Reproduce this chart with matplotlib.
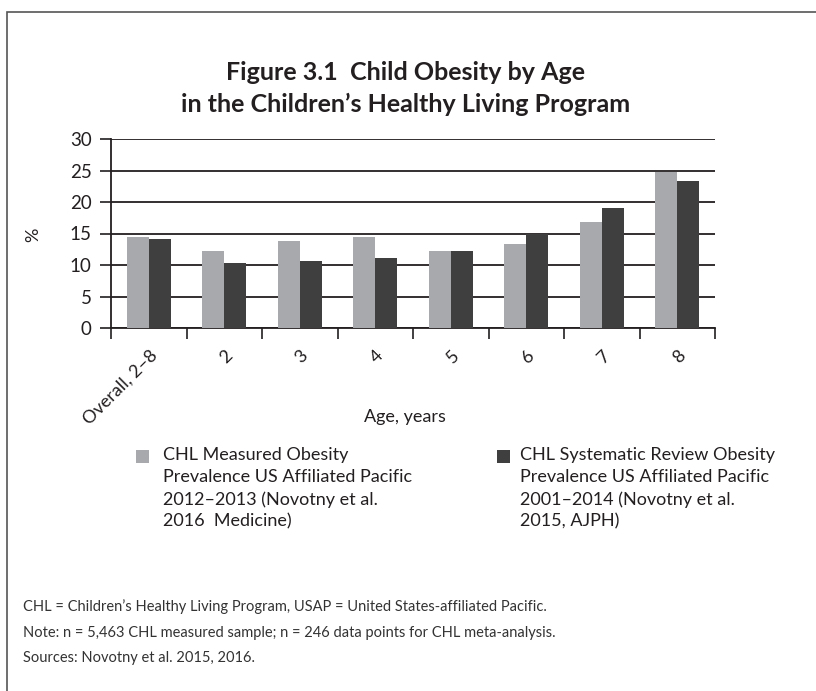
import numpy as np
import matplotlib.pyplot as plt
from matplotlib.patches import Rectangle

plt.rcParams['font.family'] = ['Lato', 'DejaVu Sans']

# data
categories = ['Overall, 2–8', '2', '3', '4', '5', '6', '7', '8']
measured = [14.4, 12.2, 13.8, 14.4, 12.2, 13.4, 16.9, 24.7]
review = [14.1, 10.3, 10.6, 11.1, 12.3, 15.0, 19.0, 23.3]
yticks = [0, 5, 10, 15, 20, 25, 30]

label_measured = ("CHL Measured Obesity\nPrevalence US Affiliated Pacific\n"
                  "2012–2013 (Novotny et al.\n2016  Medicine)")
label_review = ("CHL Systematic Review Obesity\nPrevalence US Affiliated Pacific\n"
                "2001–2014 (Novotny et al.\n2015, AJPH)")
notes = ["CHL = Children’s Healthy Living Program, USAP = United States-affiliated Pacific.",
         "Note: n = 5,463 CHL measured sample; n = 246 data points for CHL meta-analysis.",
         "Sources: Novotny et al. 2015, 2016."]

txt = '#231f20'
light = '#a7a9ac'
dark = '#3f3f3f'

W, H = 816, 691
fig = plt.figure(figsize=(W / 100, H / 100), dpi=100)

# frame around the figure (only left and top visible)
fig.patches.append(Rectangle((7 / W, -0.1), 1.2, 1 - 12 / H + 0.1, transform=fig.transFigure,
                             fill=False, edgecolor='#555555', lw=1.2, clip_on=False))

fig.text(406 / W, 1 - 72 / H, "Figure 3.1  Child Obesity by Age", ha='center', va='center',
         fontsize=18, fontweight='bold', color=txt)
fig.text(406 / W, 1 - 104 / H, "in the Children’s Healthy Living Program", ha='center', va='center',
         fontsize=18, fontweight='bold', color=txt)

ax = fig.add_axes([111 / W, 1 - 328 / H, (715 - 111) / W, (328 - 139) / H])
x = np.arange(len(categories)) + 0.5
bw = 0.29
ax.bar(x - bw / 2, measured, bw, color=light, zorder=3)
ax.bar(x + bw / 2, review, bw, color=dark, zorder=3)

ax.set_xlim(0, len(categories))
ax.set_ylim(0, 30)
ax.set_yticks(yticks)
ax.yaxis.grid(True, color=txt, lw=1.3, zorder=0)
ax.set_axisbelow(True)
ax.set_xticks(np.arange(len(categories) + 1))
ax.set_xticklabels([])
ax.set_xticks(x, minor=True)
ax.set_xticklabels(categories, minor=True, rotation=45, ha='right', va='top',
                   rotation_mode='anchor', fontsize=13, color=txt)
ax.tick_params(axis='x', which='minor', length=0, pad=14)
ax.tick_params(axis='x', which='major', length=8, width=1.2, color=txt)
ax.tick_params(axis='y', length=8, width=1.2, color=txt, labelsize=13.5, labelcolor=txt, pad=6)
for s in ['top', 'right']:
    ax.spines[s].set_visible(False)
for s in ['left', 'bottom']:
    ax.spines[s].set_color(txt)
    ax.spines[s].set_linewidth(1.3)

fig.text(33 / W, 1 - 235 / H, "%", rotation=90, ha='center', va='center', fontsize=13, color=txt)
fig.text(405 / W, 1 - 417 / H, "Age, years", ha='center', va='center', fontsize=13, color=txt)

# legend
for sx, tx, col, lab in [(136, 163, light, label_measured), (497, 520, dark, label_review)]:
    fig.patches.append(Rectangle((sx / W, 1 - 463 / H), 13 / W, 13 / H, transform=fig.transFigure,
                                 facecolor=col, edgecolor='none'))
    fig.text(tx / W, 1 - 447 / H, lab, ha='left', va='top', fontsize=13, color=txt,
             linespacing=1.45)

for i, n in enumerate(notes):
    fig.text(23 / W, 1 - (607 + 25.5 * i) / H, n, ha='left', va='center', fontsize=10.5, color='#333333')

fig.savefig('out.png', dpi=100)
